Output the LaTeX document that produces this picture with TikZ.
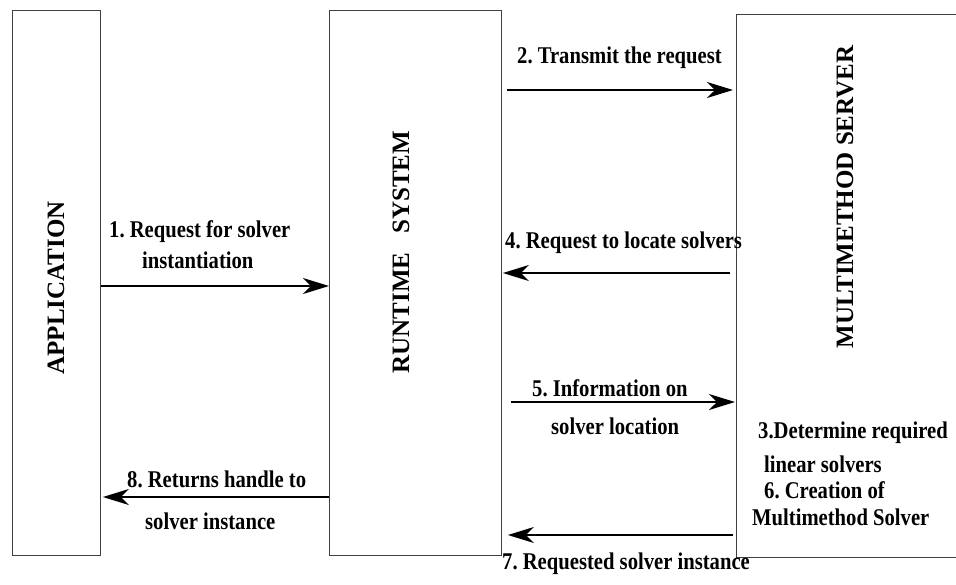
\documentclass[tikz,border=0pt]{standalone}
\usepackage{fontspec}
\setmainfont{Liberation Serif}
\newfontfamily\condensed{Liberation Serif}[FakeStretch=0.86]
\frenchspacing
\usetikzlibrary{arrows.meta}
\begin{document}
\begin{tikzpicture}[x=1pt,y=-1pt,
  block/.style={draw=black!75, line width=0.9pt, inner sep=0pt, anchor=north west},
  title/.style={font=\fontsize{25}{27}\selectfont\bfseries, rotate=90, inner sep=0pt},
  msg/.style={font=\condensed\fontsize{24}{30}\selectfont\bfseries, inner sep=0pt, anchor=base west},
  arr/.style={line width=1.4pt, -{Stealth[length=26pt, width=16pt, inset=8pt]}}]
\useasboundingbox (0,0) rectangle (956,584);
\fill[white] (0,0) rectangle (956,584);

% the three components
\node[block, minimum width=88pt, minimum height=545pt] (app) at (12,10) {};
\node[block, minimum width=172pt, minimum height=545pt] (rt) at (329,10) {};
\node[block, minimum width=230pt, minimum height=543pt] (srv) at (736,14) {};

\node[title] (appt) at (56,288) {APPLICATION};
\node[title] (rtt) at (401,252) {RUNTIME\ \ \ SYSTEM};
\node[title] (srvt) at (845,197) {MULTIMETHOD SERVER};

% 1: application -> runtime
\draw[arr] (app.east |- 0,286) -- (rt.west |- 0,286);
\node[msg] (m1a) at (109,237) {1. Request for solver};
\node[msg] (m1b) at (142,268) {instantiation};

% 2: runtime -> server
\draw[arr, shorten <=5pt, shorten >=3pt] (rt.east |- 0,90) -- (srv.west |- 0,90);
\node[msg] (m2) at (517,63) {2. Transmit the request};

% 4: server -> runtime
\draw[arr, shorten <=6pt, shorten >=1pt] (srv.west |- 0,273) -- (rt.east |- 0,273);
\node[msg] (m4) at (505,248) {4. Request to locate solvers};

% 5: runtime -> server
\draw[arr, shorten <=9pt, shorten >=1pt] (rt.east |- 0,402) -- (srv.west |- 0,402);
\node[msg] (m5a) at (532,396) {5. Information on};
\node[msg] (m5b) at (551,434) {solver location};

% 8: runtime -> application
\draw[arr, shorten >=2pt] (rt.west |- 0,497) -- (app.east |- 0,497);
\node[msg] (m8a) at (127,487) {8. Returns handle to};
\node[msg] (m8b) at (145,529) {solver instance};

% 7: server -> runtime
\draw[arr, shorten <=3pt, shorten >=6pt] (srv.west |- 0,535) -- (rt.east |- 0,535);
\node[msg] (m7) at (502,569) {7. Requested solver instance};

% steps carried out inside the server
\node[msg] (m3a) at (758,438) {3.Determine required};
\node[msg] (m3b) at (764,472) {linear solvers};
\node[msg] (m6a) at (764,498) {6. Creation of};
\node[msg] (m6b) at (752,525) {Multimethod Solver};
\end{tikzpicture}
\end{document}
